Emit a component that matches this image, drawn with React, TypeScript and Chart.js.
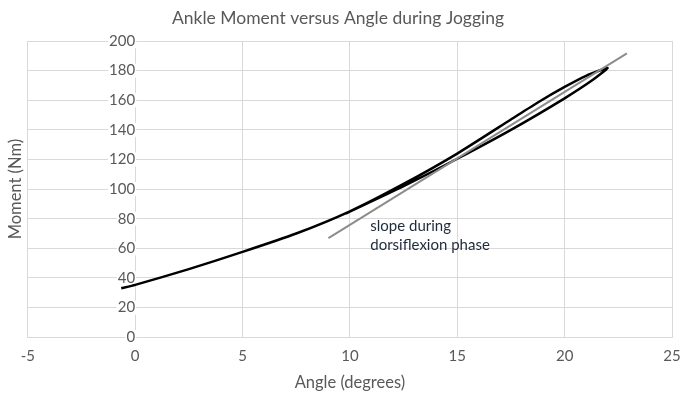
import React, { useEffect, useRef } from "react";
import { Chart, registerables } from "chart.js";

Chart.register(...registerables);

// Loading branch (angle in degrees, moment in Nm)
const angleLoading = [-0.65, 0, 2.5, 5, 7.5, 10, 12.5, 15, 17.5, 18.75, 20, 21, 22];
const momentLoading = [33, 35.3, 46, 57.6, 70, 85, 103.5, 124, 147, 158.5, 169, 176.5, 181.8];
// Unloading branch
const angleUnloading = [21.3, 20, 17.5, 15, 12.5, 9.8];
const momentUnloading = [173.6, 161.3, 140, 120.5, 102, 83.5];
// Slope line during dorsiflexion phase
const slopeAngle = [9, 22.9];
const slopeMoment = [66.9, 191.7];

const xTicks = [-5, 0, 5, 10, 15, 20, 25];
const yTicks = [0, 20, 40, 60, 80, 100, 120, 140, 160, 180, 200];

const titleText = "Ankle Moment versus Angle during Jogging";
const xTitle = "Angle (degrees)";
const yTitle = "Moment (Nm)";
const noteLines = ["slope during", "dorsiflexion phase"];
const noteAnchor = { x: 10.95, y: 75 };

const FONT = "Lato, 'Open Sans', sans-serif";
const GREY_TEXT = "#595959";
const GRID = "#d9d9d9";

export default function App() {
  const ref = useRef<HTMLCanvasElement | null>(null);

  useEffect(() => {
    if (!ref.current) return;
    const curve = [
      ...angleLoading.map((x, i) => ({ x, y: momentLoading[i] })),
      ...angleUnloading.map((x, i) => ({ x, y: momentUnloading[i] })),
    ];
    const slope = slopeAngle.map((x, i) => ({ x, y: slopeMoment[i] }));

    const notePlugin = {
      id: "note",
      afterDatasetsDraw(chart: any) {
        const { ctx, scales } = chart;
        const px = scales.x.getPixelForValue(noteAnchor.x);
        const py = scales.y.getPixelForValue(noteAnchor.y);
        ctx.save();
        ctx.font = `15px ${FONT}`;
        ctx.fillStyle = "#1f2b3a";
        ctx.textBaseline = "middle";
        ctx.textAlign = "left";
        noteLines.forEach((t, i) => ctx.fillText(t, px, py + i * 19.5));
        ctx.restore();
      },
    };

    const chart = new Chart(ref.current, {
      type: "scatter",
      data: {
        datasets: [
          {
            data: slope,
            showLine: true,
            borderColor: "#8c8c8c",
            borderWidth: 2,
            pointRadius: 0,
            fill: false,
          },
          {
            data: curve,
            showLine: true,
            borderColor: "#000000",
            borderWidth: 2.5,
            pointRadius: 0,
            tension: 0.2,
            fill: false,
          },
        ],
      },
      options: {
        animation: false,
        responsive: false,
        devicePixelRatio: 1,
        layout: { padding: { left: 4, right: 9, top: 0, bottom: 5 } },
        plugins: {
          legend: { display: false },
          tooltip: { enabled: false },
          title: {
            display: true,
            text: titleText,
            color: GREY_TEXT,
            font: { family: FONT, size: 17.5, weight: "normal" },
            padding: { top: 7.5, bottom: 12.5 },
          },
        },
        scales: {
          x: {
            type: "linear",
            position: "bottom",
            min: -5,
            max: 25,
            afterBuildTicks: (s: any) => {
              s.ticks = xTicks.map((v) => ({ value: v }));
            },
            grid: { color: GRID, lineWidth: 1, drawTicks: true, tickLength: 10, tickColor: "rgba(0,0,0,0)" },
            border: { color: GRID, z: -1 } as any,
            ticks: {
              color: GREY_TEXT,
              font: { family: FONT, size: 15 },
              padding: 0,
              maxRotation: 0,
            },
            title: {
              display: true,
              text: xTitle,
              color: GREY_TEXT,
              font: { family: FONT, size: 16.5 },
              padding: { top: 8, bottom: 2 },
            },
          },
          y: {
            type: "linear",
            position: { x: 0 } as any,
            min: 0,
            max: 200,
            afterBuildTicks: (s: any) => {
              s.ticks = yTicks.map((v) => ({ value: v }));
            },
            grid: { color: GRID, lineWidth: 1, drawTicks: false },
            border: { color: GRID, z: -1 } as any,
            ticks: {
              color: GREY_TEXT,
              font: { family: FONT, size: 15 },
              padding: 17,
              z: 0,
              showLabelBackdrop: true,
              backdropColor: "#ffffff",
              backdropPadding: { top: -2, bottom: -2, left: 1, right: 1 },
            } as any,
          },
          yTitle: {
            type: "linear",
            position: "left",
            display: true,
            grid: { display: false, drawTicks: false },
            border: { display: false },
            ticks: { display: false },
            title: {
              display: true,
              text: yTitle,
              color: GREY_TEXT,
              font: { family: FONT, size: 16.5 },
              padding: { top: 2, bottom: 2 },
            },
          },
        },
      },
      plugins: [notePlugin],
    });
    return () => chart.destroy();
  }, []);

  return (
    <div style={{ position: "fixed", left: 0, top: 0, width: 681, height: 400, background: "#fff" }}>
      <canvas ref={ref} width={681} height={400} style={{ width: 681, height: 400 }} />
    </div>
  );
}
